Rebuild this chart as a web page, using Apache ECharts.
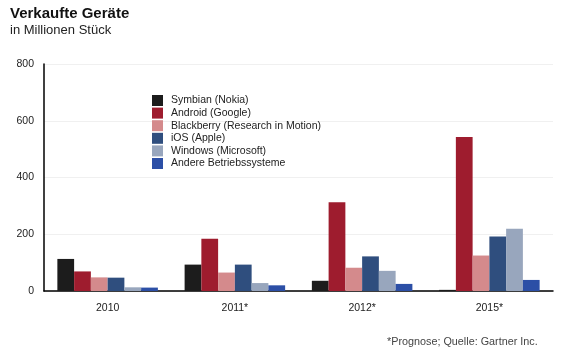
<!DOCTYPE html>
<html><head><meta charset="utf-8">
<script src="https://cdn.jsdelivr.net/npm/echarts@6/dist/echarts.min.js"></script>
<style>html,body{margin:0;padding:0;background:#fff}#c{width:574px;height:357px}</style>
</head><body><div id="c"></div>
<script>
const categories = ['2010', '2011*', '2012*', '2015*'];
const seriesNames = ['Symbian (Nokia)', 'Android (Google)', 'Blackberry (Research in Motion)', 'iOS (Apple)', 'Windows (Microsoft)', 'Andere Betriebssysteme'];
const symbian = [113, 93, 36, 4];
const android = [69, 184, 313, 543];
const blackberry = [48, 65, 82, 125];
const ios = [47, 93, 122, 192];
const windows = [13, 28, 71, 219];
const andere = [12, 20, 25, 39];
const yTicks = [0, 200, 400, 600, 800];
const colors = ['#1c1c1c', '#9e1c2e', '#d48a8c', '#2f4e7e', '#98a6bd', '#2c4fa6'];
const values = [symbian, android, blackberry, ios, windows, andere];

const chart = echarts.init(document.getElementById('c'), null, {renderer: 'canvas'});
const font = 'Arial, "Liberation Sans", sans-serif';
chart.setOption({
  animation: false,
  color: colors,
  textStyle: {fontFamily: font},
  title: [
    {text: 'Verkaufte Geräte', left: 10, top: 6, padding: 0, textStyle: {fontSize: 15, fontWeight: 'bold', color: '#111', fontFamily: font}},
    {text: 'in Millionen Stück', left: 10, top: 24, padding: 0, textStyle: {fontSize: 13, fontWeight: 'normal', color: '#222', fontFamily: font}},
    {text: '*Prognose; Quelle: Gartner Inc.', left: 387, top: 337, padding: 0, textStyle: {fontSize: 10.8, fontWeight: 'normal', color: '#444', fontFamily: font}}
  ],
  legend: {
    orient: 'vertical', left: 152, top: 95, itemWidth: 11, itemHeight: 11, itemGap: 1.6,
    icon: 'rect', data: seriesNames,
    textStyle: {fontSize: 10.5, color: '#222', fontFamily: font, padding: [0, 0, 0, 3]},
    padding: 0
  },
  grid: {left: 44, right: 21, top: 64, bottom: 66, containLabel: false},
  xAxis: {
    type: 'category', data: categories,
    axisLine: {lineStyle: {color: '#000', width: 1.5}},
    axisTick: {alignWithLabel: true, length: 4, lineStyle: {color: '#000'}},
    axisLabel: {fontSize: 10.5, color: '#222', margin: 12}
  },
  yAxis: {
    type: 'value', min: 0, max: 800, interval: 200,
    axisLine: {show: true, lineStyle: {color: '#000', width: 1.5}},
    axisTick: {show: false},
    axisLabel: {fontSize: 10.5, color: '#222', margin: 10},
    splitLine: {lineStyle: {color: '#f0f0f0', width: 1}}
  },
  series: seriesNames.map((n, i) => ({
    name: n, type: 'bar', data: values[i], barGap: '0%', barCategoryGap: '21%'
  }))
});
</script></body></html>
